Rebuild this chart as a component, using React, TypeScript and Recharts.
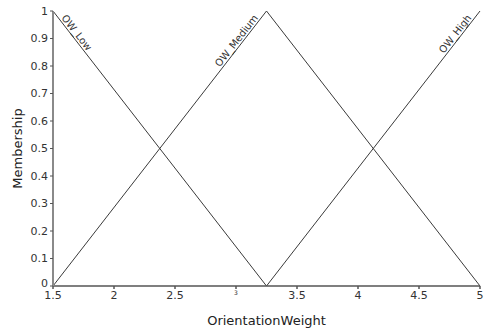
import { LineChart, Line, XAxis, YAxis } from "recharts";

// points where the membership functions change slope
const xs = [1.5, 3.25, 5];
const owLow = [1, 0, null];
const owMedium = [0, 1, 0];
const owHigh = [null, 0, 1];

const xTicks = [1.5, 2, 2.5, 3, 3.5, 4, 4.5, 5];
const yTicks = [0, 0.1, 0.2, 0.3, 0.4, 0.5, 0.6, 0.7, 0.8, 0.9, 1];

const data = xs.map((x, i) => ({ x, low: owLow[i], medium: owMedium[i], high: owHigh[i] }));

const FONT = "'DejaVu Sans', sans-serif";
const ANGLE = 52;

// name written along the line, next to the peak of each set
function peakLabel(name: string, peakIdx: number, side: "down" | "up") {
  return (p: any) => {
    if (p.index !== peakIdx || p.x == null || p.y == null) return null;
    const x = side === "down" ? p.x + 8 : p.x - 8;
    const y = p.y + 7;
    const rot = side === "down" ? ANGLE : -ANGLE;
    return (
      <text
        x={x}
        y={y}
        transform={`rotate(${rot} ${x} ${y})`}
        textAnchor={side === "down" ? "start" : "end"}
        fontSize={10}
        fontFamily={FONT}
        fill="#333"
      >
        {name}
      </text>
    );
  };
}

function XTick(props: any) {
  const { x, y, payload } = props;
  const v = payload.value;
  return (
    <text x={x} y={y} dy="0.71em" textAnchor="middle" fontSize={v === 3 ? 6 : 11} fontFamily={FONT} fill="#333">
      {v}
    </text>
  );
}

function YTick(props: any) {
  const { x, y, payload } = props;
  const v = payload.value;
  // the zero label sits a little higher so it clears the 1.5 below it
  return (
    <text x={x} y={v === 0 ? y - 3 : y} dy="0.355em" textAnchor="end" fontSize={11} fontFamily={FONT} fill="#333">
      {v}
    </text>
  );
}

function YLabel(props: any) {
  const vb = props.viewBox || { x: 0, y: 11, width: 53, height: 275 };
  const cx = 17;
  const cy = vb.y + vb.height / 2;
  return (
    <text x={cx} y={cy} transform={`rotate(-90 ${cx} ${cy})`} textAnchor="middle" dominantBaseline="central" fontSize={13} fontFamily={FONT} fill="#222">
      Membership
    </text>
  );
}

function XLabel(props: any) {
  const vb = props.viewBox || { x: 53, y: 286, width: 427, height: 45 };
  const cx = vb.x + vb.width / 2;
  return (
    <text x={cx} y={325} textAnchor="middle" fontSize={13} fontFamily={FONT} fill="#222">
      OrientationWeight
    </text>
  );
}

export default function App() {
  return (
    <div style={{ position: "fixed", left: 0, top: 0, width: 485, height: 331, background: "#fff" }}>
      <LineChart width={485} height={331} data={data} margin={{ top: 11, right: 5, bottom: 0, left: 0 }}>
        <XAxis
          dataKey="x"
          type="number"
          domain={[1.5, 5]}
          ticks={xTicks}
          interval={0}
          height={45}
          tickSize={3}
          tickMargin={2}
          stroke="#555"
          strokeWidth={1.5}
          tick={<XTick />}
          label={<XLabel />}
        />
        <YAxis
          type="number"
          domain={[0, 1]}
          ticks={yTicks}
          interval={0}
          width={53}
          tickSize={3}
          tickMargin={2}
          axisLine={{ stroke: "#8a8a8a", strokeWidth: 2 }}
          tickLine={{ stroke: "#555" }}
          tick={<YTick />}
          label={<YLabel />}
        />
        <Line dataKey="low" stroke="#3a3a3a" strokeWidth={1} dot={false} isAnimationActive={false} label={peakLabel("OW_Low", 0, "down")} />
        <Line dataKey="medium" stroke="#3a3a3a" strokeWidth={1} dot={false} isAnimationActive={false} label={peakLabel("OW_Medium", 1, "up")} />
        <Line dataKey="high" stroke="#3a3a3a" strokeWidth={1} dot={false} isAnimationActive={false} label={peakLabel("OW_High", 2, "up")} />
      </LineChart>
    </div>
  );
}
